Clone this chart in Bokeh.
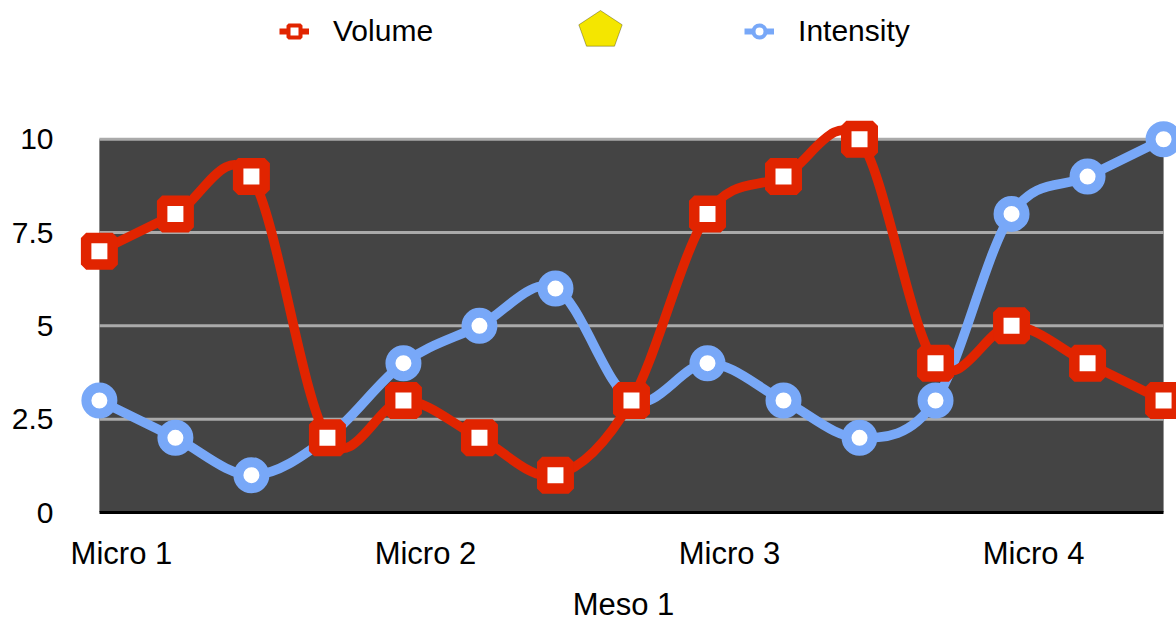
import numpy as np
from bokeh.plotting import figure
from bokeh.models import (Range1d, FixedTicker, Legend, LegendItem, PolyAnnotation)
from bokeh.embed import file_html
from bokeh.resources import INLINE

# ---------------- data ----------------
volume = [7, 8, 9, 2, 3, 2, 1, 3, 8, 9, 10, 4, 5, 4, 3]
intensity = [3, 2, 1, 2, 4, 5, 6, 3, 4, 3, 2, 3, 8, 9, 10]
group_labels = ["Micro 1", "Micro 2", "Micro 3", "Micro 4"]
points_per_group = 4
y_ticks = [0, 2.5, 5, 7.5, 10]
y_tick_labels = ["0", "2.5", "5", "7.5", "10"]
x_axis_title = "Meso 1"
series_names = ["Volume", "Intensity"]

RED = "#E12400"
BLUE = "#78A8F8"
FONT = "Liberation Sans"

n = len(volume)
idx = np.arange(n, dtype=float)


def catmull_rom(xs, ys):
    xs = np.asarray(xs, float)
    ys = np.asarray(ys, float)
    px = np.r_[xs[0], xs[:-1]]
    nx = np.r_[xs[1:], xs[-1]]
    py = np.r_[ys[0], ys[:-1]]
    ny = np.r_[ys[1:], ys[-1]]
    mx = (nx - px) / 2.0
    my = (ny - py) / 2.0
    return dict(
        x0=xs[:-1], y0=ys[:-1], x1=xs[1:], y1=ys[1:],
        cx0=xs[:-1] + mx[:-1] / 3.0, cy0=ys[:-1] + my[:-1] / 3.0,
        cx1=xs[1:] - mx[1:] / 3.0, cy1=ys[1:] - my[1:] / 3.0,
    )


p = figure(width=1176, height=624,
           x_range=Range1d(-0.38, 14.17), y_range=Range1d(0, 13.717),
           output_backend="svg", toolbar_location=None,
           min_border_left=70, min_border_right=0, min_border_top=0,
           min_border_bottom=111, outline_line_color=None,
           background_fill_color="white", border_fill_color="white")
p.xgrid.visible = False
p.ygrid.visible = False

# dark plot area
p.quad(left=[idx[0]], right=[idx[-1]], bottom=[y_ticks[0]], top=[y_ticks[-1]],
       fill_color="#444444", line_color=None)
# grid lines
gy = np.array(y_ticks[1:], float)
p.segment(x0=np.full(len(gy), idx[0]), x1=np.full(len(gy), idx[-1]),
          y0=gy, y1=gy, line_color="#AAAAAA", line_width=3)

# series (blue below red)
bi = catmull_rom(idx, intensity)
p.bezier(line_color=BLUE, line_width=9.5, line_cap="round", **bi)
p.scatter(idx, intensity, marker="circle", size=26, line_width=10,
          line_color=BLUE, fill_color="white")
bv = catmull_rom(idx, volume)
p.bezier(line_color=RED, line_width=9.5, line_cap="round", **bv)
p.scatter(idx, volume, marker="square", size=26.5, line_width=10.5,
          line_color=RED, fill_color="white")

# legend-only renderers
nan = [np.nan]
lv = p.line(nan, nan, line_color=RED, line_width=6)
sv = p.scatter(nan, nan, marker="square", size=12, line_width=4,
               line_color=RED, fill_color="white")
li = p.line(nan, nan, line_color=BLUE, line_width=6)
si = p.scatter(nan, nan, marker="circle", size=12, line_width=4,
               line_color=BLUE, fill_color="white")

legend = Legend(items=[LegendItem(label=series_names[0], renderers=[lv, sv]),
                       LegendItem(label=series_names[1], renderers=[li, si])],
                orientation="horizontal", location=(209, 464),
                glyph_width=30, glyph_height=34, label_standoff=24,
                spacing=311, padding=0, margin=0,
                background_fill_alpha=0, border_line_alpha=0,
                label_text_font=FONT, label_text_font_size="30px",
                label_text_color="black")
p.add_layout(legend)

# unlabeled third legend key (pentagon)
p.add_layout(PolyAnnotation(xs=[600, 621.7, 614, 586, 578.3],
                            ys=[10, 24.3, 45.7, 45.7, 24.3],
                            xs_units="canvas", ys_units="canvas",
                            fill_color="#F4E600", fill_alpha=1,
                            line_color="black", line_width=1))

# x axis
tick_pos = [i * points_per_group + 0.29 for i in range(len(group_labels))]
p.xaxis.ticker = FixedTicker(ticks=tick_pos)
p.xaxis.major_label_overrides = {t: lab for t, lab in zip(tick_pos, group_labels)}
p.xaxis.bounds = (idx[0], idx[-1])
p.xaxis.axis_line_color = "black"
p.xaxis.axis_line_width = 3
p.xaxis.major_tick_line_color = None
p.xaxis.minor_tick_line_color = None
p.xaxis.major_tick_out = 0
p.xaxis.major_tick_in = 0
p.xaxis.major_label_standoff = 23
p.xaxis.major_label_text_font = FONT
p.xaxis.major_label_text_font_size = "31px"
p.xaxis.major_label_text_color = "black"
p.xaxis.axis_label = x_axis_title
p.xaxis.axis_label_text_font = FONT
p.xaxis.axis_label_text_font_size = "31px"
p.xaxis.axis_label_text_font_style = "normal"
p.xaxis.axis_label_text_color = "black"
p.xaxis.axis_label_standoff = 13

# y axis
p.yaxis.ticker = FixedTicker(ticks=y_ticks)
p.yaxis.major_label_overrides = {t: lab for t, lab in zip(y_ticks, y_tick_labels)}
p.yaxis.axis_line_color = None
p.yaxis.major_tick_line_color = None
p.yaxis.minor_tick_line_color = None
p.yaxis.major_tick_out = 0
p.yaxis.major_tick_in = 0
p.yaxis.major_label_standoff = 17
p.yaxis.major_label_text_font = FONT
p.yaxis.major_label_text_font_size = "30px"
p.yaxis.major_label_text_color = "black"

open("out.html", "w").write(file_html(p, INLINE))
